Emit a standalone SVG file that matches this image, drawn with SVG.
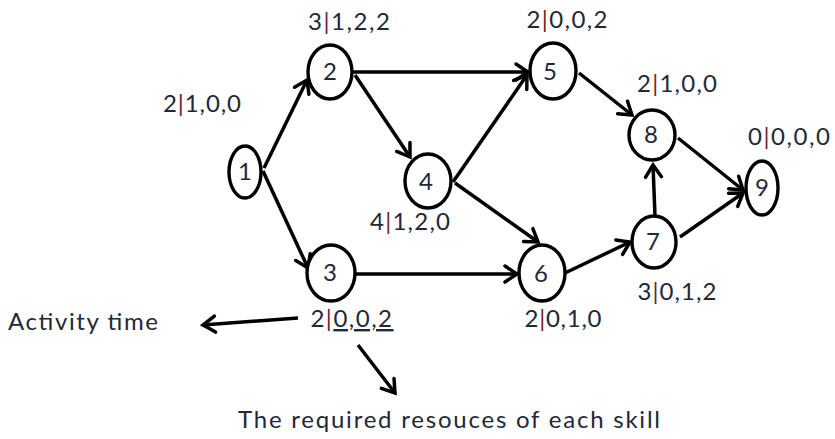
<svg xmlns="http://www.w3.org/2000/svg" width="835" height="439" viewBox="0 0 835 439">
  <defs>
    <marker id="arrow" markerUnits="userSpaceOnUse" viewBox="-16 -12 20 24" markerWidth="20" markerHeight="24" refX="0" refY="0" orient="auto" overflow="visible">
      <path d="M-12,-8 L0,0 L-12,8" fill="none" stroke="#000" stroke-width="3.5" stroke-linejoin="miter" stroke-linecap="round"/>
    </marker>
    <style>
      .node ellipse { fill: #fff; stroke: #000; stroke-width: 3.4; }
      .node text.id { font-family: Lato, "Open Sans", sans-serif; font-size: 24px; fill: #1e2840; text-anchor: middle; }
      .lbl { font-family: Lato, "Open Sans", sans-serif; font-size: 24px; fill: #222838; text-anchor: middle; }
      .bar { fill: #6b1f2e; }
      .edge { stroke: #000; stroke-width: 3.5; fill: none; marker-end: url(#arrow); }
      .note { font-family: Lato, "Open Sans", sans-serif; font-size: 24px; fill: #222838; }
    </style>
  </defs>

  <!-- connectors -->
  <g id="connectors">
    <line class="edge" x1="264" y1="168" x2="307" y2="80"/>
    <line class="edge" x1="263" y1="171" x2="308" y2="268"/>
    <line class="edge" x1="353" y1="72" x2="528" y2="72"/>
    <line class="edge" x1="355" y1="75" x2="410" y2="157"/>
    <line class="edge" x1="453" y1="182" x2="527" y2="75"/>
    <line class="edge" x1="455" y1="183" x2="538" y2="242"/>
    <line class="edge" x1="355" y1="274" x2="517" y2="274"/>
    <line class="edge" x1="579" y1="73" x2="632" y2="115"/>
    <line class="edge" x1="565" y1="273" x2="630" y2="242"/>
    <line class="edge" x1="655" y1="216" x2="653" y2="165"/>
    <line class="edge" x1="678" y1="138" x2="743" y2="190"/>
    <line class="edge" x1="680" y1="237" x2="743" y2="193"/>
    <!-- legend pointers -->
    <line class="edge" x1="298" y1="318" x2="203" y2="325"/>
    <line class="edge" x1="358" y1="345" x2="395" y2="393"/>
  </g>

  <!-- nodes -->
  <g id="n1" class="node">
    <ellipse cx="245" cy="172" rx="16" ry="26"/>
    <text class="id" x="245" y="180">1</text>
    <text class="lbl" x="202" y="112" textLength="78" lengthAdjust="spacing">2<tspan class="bar">|</tspan>1,0,0</text>
  </g>
  <g id="n2" class="node">
    <ellipse cx="330" cy="72" rx="22" ry="27"/>
    <text class="id" x="330" y="80">2</text>
    <text class="lbl" x="349" y="30" textLength="82" lengthAdjust="spacing">3<tspan class="bar">|</tspan>1,2,2</text>
  </g>
  <g id="n3" class="node">
    <ellipse cx="331" cy="273" rx="24" ry="28"/>
    <text class="id" x="330" y="281">3</text>
    <text class="lbl" x="352" y="327" letter-spacing="1.5">2<tspan class="bar">|</tspan><tspan text-decoration="underline">0,0,2</tspan></text>
  </g>
  <g id="n4" class="node">
    <ellipse cx="428" cy="181" rx="23" ry="27"/>
    <text class="id" x="426" y="190">4</text>
    <text class="lbl" x="410" y="230" textLength="80" lengthAdjust="spacing">4<tspan class="bar">|</tspan>1,2,0</text>
  </g>
  <g id="n5" class="node">
    <ellipse cx="553" cy="71" rx="23" ry="28"/>
    <text class="id" x="550" y="80">5</text>
    <text class="lbl" x="567" y="28" textLength="81" lengthAdjust="spacing">2<tspan class="bar">|</tspan>0,0,2</text>
  </g>
  <g id="n6" class="node">
    <ellipse cx="542" cy="273" rx="23" ry="28"/>
    <text class="id" x="541" y="282">6</text>
    <text class="lbl" x="563" y="327" textLength="77" lengthAdjust="spacing">2<tspan class="bar">|</tspan>0,1,0</text>
  </g>
  <g id="n7" class="node">
    <ellipse cx="654" cy="242" rx="22" ry="26"/>
    <text class="id" x="653" y="250">7</text>
    <text class="lbl" x="677" y="300" textLength="79" lengthAdjust="spacing">3<tspan class="bar">|</tspan>0,1,2</text>
  </g>
  <g id="n8" class="node">
    <ellipse cx="652" cy="135" rx="23" ry="25"/>
    <text class="id" x="651" y="143">8</text>
    <text class="lbl" x="677" y="92" textLength="80" lengthAdjust="spacing">2<tspan class="bar">|</tspan>1,0,0</text>
  </g>
  <g id="n9" class="node">
    <ellipse cx="762" cy="188" rx="16" ry="27"/>
    <text class="id" x="762" y="196">9</text>
    <text class="lbl" x="789" y="145" textLength="82" lengthAdjust="spacing">0<tspan class="bar">|</tspan>0,0,0</text>
  </g>

  <!-- legend texts -->
  <text class="note" x="8" y="330" textLength="150" lengthAdjust="spacing">Activity time</text>
  <text class="note" x="238" y="428" textLength="422" lengthAdjust="spacing">The required resouces of each skill</text>
</svg>
